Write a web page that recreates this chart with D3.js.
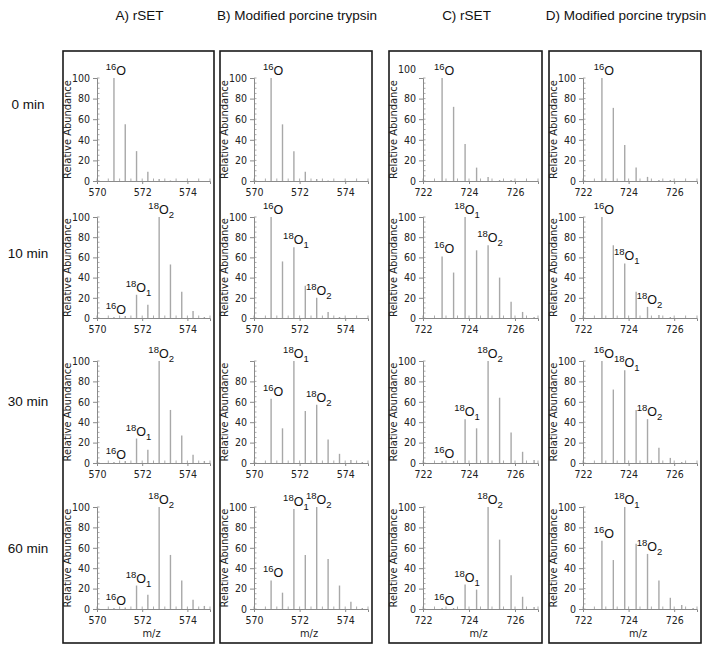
<!DOCTYPE html>
<html><head><meta charset="utf-8">
<script src="https://cdn.jsdelivr.net/npm/d3@7"></script>
<style>
html,body{margin:0;padding:0;background:#fff;}
svg{display:block;font-family:"Liberation Sans",Arial,sans-serif;}
</style></head>
<body><svg id="chart" width="723" height="657"></svg>
<script>
// ---------- data ----------
const columnTitles = ["A) rSET", "B) Modified porcine trypsin", "C) rSET", "D) Modified porcine trypsin"];
const rowLabels = ["0 min", "10 min", "30 min", "60 min"];

// isotope peak positions (m/z, z = 2)
const mzPeptide1 = [570.75, 571.25, 571.75, 572.25, 572.75, 573.25, 573.75, 574.25, 574.75];
const mzPeptide2 = [722.83, 723.33, 723.83, 724.33, 724.83, 725.33, 725.83, 726.33, 726.83];
const xTicks1 = [570, 572, 574];
const xTicks2 = [722, 724, 726];
const yTicks = [0, 20, 40, 60, 80, 100];
const yTicksNo100 = [0, 20, 40, 60, 80];

// relative abundances, one array per panel (column, time)
const rsetP1_0   = [100, 55, 29, 9, 2, 0.5, 0, 0, 0];
const rsetP1_10  = [1, 2, 23, 13, 100, 53, 26, 7, 1];
const rsetP1_30  = [1, 2, 24, 13, 100, 52, 27, 8, 2];
const rsetP1_60  = [1, 1.5, 23, 14, 100, 53, 28, 9, 3];

const trypP1_0   = [100, 55, 29, 9, 2, 0.5, 0, 0, 0];
const trypP1_10  = [100, 56, 70, 32, 20, 6, 1, 0, 0];
const trypP1_30  = [63, 34, 100, 51, 57, 23, 9, 3, 1];
const trypP1_60  = [28, 16, 98, 53, 100, 49, 23, 7, 1];

const rsetP2_0   = [100, 72, 36, 13, 4, 1, 1, 0, 0];
const rsetP2_10  = [61, 45, 100, 67, 72, 40, 16, 6, 1];
const rsetP2_30  = [2, 2, 43, 34, 100, 64, 30, 11, 3];
const rsetP2_60  = [1, 1, 24, 19, 100, 68, 33, 12, 2];

const trypP2_0   = [100, 71, 35, 13, 4, 1, 1, 0, 0];
const trypP2_10  = [100, 72, 54, 26, 11, 3, 1, 0, 0];
const trypP2_30  = [100, 72, 91, 52, 43, 15, 5, 1, 0];
const trypP2_60  = [67, 48, 100, 64, 54, 28, 11, 4, 1];

const panelData = [
  [rsetP1_0, rsetP1_10, rsetP1_30, rsetP1_60],
  [trypP1_0, trypP1_10, trypP1_30, trypP1_60],
  [rsetP2_0, rsetP2_10, rsetP2_30, rsetP2_60],
  [trypP2_0, trypP2_10, trypP2_30, trypP2_60]
];
const panelYTicks = [
  [yTicks, yTicks, yTicks, yTicks],
  [yTicks, yTicks, yTicksNo100, yTicks],
  [yTicks, yTicks, yTicks, yTicks],
  [yTicks, yTicks, yTicks, yTicks]
];
const columnMz = [mzPeptide1, mzPeptide1, mzPeptide2, mzPeptide2];
const columnXTicks = [xTicks1, xTicks1, xTicks2, xTicks2];
const columnXDomain = [[570, 575], [570, 575], [722, 727], [722, 727]];

// annotated isotope species: [superscript, letter, subscript, peak index]
const speciesLabels = [["16", "O", "", 0], ["18", "O", "1", 2], ["18", "O", "2", 4]];

// ---------- layout ----------
const boxLeft = [63, 220, 389, 549];
const boxRight = [214, 372, 542, 701];
const boxTop = 51, boxBottom = 643;
const rowTop = [78, 217, 361, 507];   // y of 100
const rowBottom = [181, 318, 463, 609]; // y of 0
const rowLabelY = [104, 253, 401, 548];
const narrow = "'Liberation Sans Narrow','Arial Narrow','DejaVu Sans Condensed',sans-serif";

const svg = d3.select("#chart");
const axisColor = "#8a8a8a";
const peakColor = "#a8a8a8";

// headers
columnTitles.forEach((t, c) => {
  svg.append("text")
    .attr("x", (boxLeft[c] + boxRight[c]) / 2 + 1)
    .attr("y", 20)
    .attr("text-anchor", "middle")
    .attr("font-size", 13.5)
    .attr("fill", "#111")
    .text(t);
});
rowLabels.forEach((t, r) => {
  svg.append("text")
    .attr("x", 28)
    .attr("y", rowLabelY[r] + 5)
    .attr("text-anchor", "middle")
    .attr("font-size", 13.5)
    .attr("fill", "#111")
    .text(t);
});

// boxes
boxLeft.forEach((l, c) => {
  svg.append("rect")
    .attr("x", l).attr("y", boxTop)
    .attr("width", boxRight[c] - l).attr("height", boxBottom - boxTop)
    .attr("fill", "none").attr("stroke", "#1a1a1a").attr("stroke-width", 1.6);
});

for (let c = 0; c < 4; c++) {
  const ax0 = boxLeft[c] + 34, ax1 = boxRight[c] - 4;
  const x = d3.scaleLinear().domain(columnXDomain[c]).range([ax0, ax1]);
  for (let r = 0; r < 4; r++) {
    const y = d3.scaleLinear().domain([0, 100]).range([rowBottom[r], rowTop[r]]);
    const g = svg.append("g");
    const vals = panelData[c][r];
    const mz = columnMz[c];

    // minor ticks
    const yMinor = d3.range(0, 101, 5);
    g.append("g").selectAll("line").data(yMinor).join("line")
      .attr("x1", ax0).attr("x2", ax0 + 2.5)
      .attr("y1", d => y(d)).attr("y2", d => y(d))
      .attr("stroke", axisColor).attr("stroke-width", 0.7);
    const xMinor = d3.range(columnXDomain[c][0], columnXDomain[c][1] + 0.01, 0.5);
    g.append("g").selectAll("line").data(xMinor).join("line")
      .attr("x1", d => x(d)).attr("x2", d => x(d))
      .attr("y1", y(0)).attr("y2", y(0) - 2.5)
      .attr("stroke", axisColor).attr("stroke-width", 0.7);

    // y axis
    const yAxis = g.append("g").attr("transform", `translate(${ax0},0)`)
      .call(d3.axisLeft(y).tickValues(panelYTicks[c][r]).tickSize(4).tickPadding(3));
    yAxis.select(".domain").attr("stroke", axisColor);
    yAxis.selectAll(".tick line").attr("stroke", axisColor);
    yAxis.selectAll(".tick text").attr("font-size", 10.5).attr("fill", "#222")
      .attr("font-family", narrow);
    if (c === 2 && r === 0) {
      // the 100 label of this panel sits higher in the original figure
      yAxis.selectAll(".tick text").filter(d => d === 100).attr("dy", "-0.5em");
    }

    // x axis
    const xAxis = g.append("g").attr("transform", `translate(0,${y(0)})`)
      .call(d3.axisBottom(x).tickValues(columnXTicks[c]).tickFormat(d3.format("d")).tickSize(3).tickPadding(5));
    xAxis.select(".domain").attr("stroke", axisColor);
    xAxis.selectAll(".tick line").attr("stroke", axisColor);
    xAxis.selectAll(".tick text").attr("font-size", 10.5).attr("fill", "#222")
      .attr("font-family", narrow);

    // y label
    g.append("text")
      .attr("transform", `translate(${boxLeft[c] + 7.5},${(y(0) + y(100)) / 2}) rotate(-90)`)
      .attr("text-anchor", "middle")
      .attr("font-size", 11)
      .attr("font-family", narrow)
      .attr("fill", "#222")
      .text("Relative Abundance");

    if (r === 3) {
      g.append("text")
        .attr("x", (ax0 + ax1) / 2 - 2)
        .attr("y", y(0) + 28)
        .attr("text-anchor", "middle")
        .attr("font-size", 11)
        .attr("font-family", narrow)
        .attr("fill", "#222")
        .text("m/z");
    }

    // peaks
    g.append("g").selectAll("line").data(vals.map((v, i) => ({ m: mz[i], v })).filter(d => d.v > 0))
      .join("line")
      .attr("x1", d => x(d.m)).attr("x2", d => x(d.m))
      .attr("y1", y(0)).attr("y2", d => y(d.v))
      .attr("stroke", peakColor).attr("stroke-width", 1.4);

    // labels
    const labs = r === 0 ? speciesLabels.slice(0, 1) : speciesLabels;
    labs.forEach(([sup, base, sub, idx]) => {
      const t = g.append("text")
        .attr("x", x(mz[idx]) + 2)
        .attr("y", y(vals[idx]) - 3)
        .attr("text-anchor", "middle")
        .attr("fill", "#111")
        .attr("font-size", 12.5);
      t.append("tspan").attr("font-size", 9.5).attr("dy", -5).text(sup);
      t.append("tspan").attr("dy", 5).text(base);
      if (sub) t.append("tspan").attr("font-size", 9.5).attr("dy", 4).text(sub);
    });
  }
}
</script></body></html>
